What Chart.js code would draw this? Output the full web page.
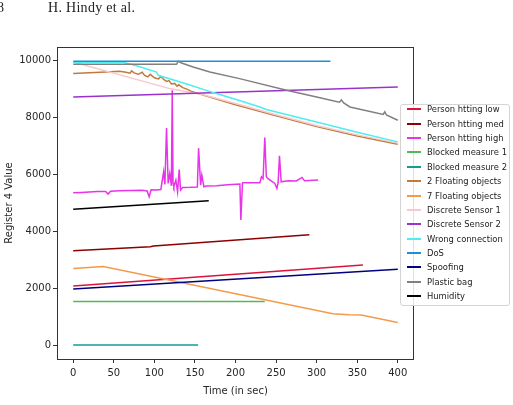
<!DOCTYPE html>
<html><head><meta charset="utf-8">
<script src="https://cdn.jsdelivr.net/npm/chart.js@4.4.0/dist/chart.umd.min.js"></script>
<style>
html,body{margin:0;padding:0;background:#fff;}
#wrap{position:relative;width:513px;height:405px;overflow:hidden;background:#fff;}
#c{position:absolute;left:0;top:0;}
.hdr{position:absolute;top:0;font-family:"Liberation Serif","DejaVu Serif",serif;font-size:14px;color:#222;line-height:16px;white-space:nowrap;}
#legend{position:absolute;left:400px;top:104px;width:108px;height:200px;border:1px solid #d4d4d4;border-radius:3px;background:rgba(255,255,255,0.85);}
.row{position:absolute;left:0;height:12px;width:108px;}
.sw{position:absolute;left:6px;top:5px;width:14px;height:2px;}
.lt{position:absolute;left:26px;top:0;font-family:"DejaVu Sans",sans-serif;font-size:8.4px;line-height:12px;color:#222;white-space:nowrap;}
</style></head>
<body>
<div id="wrap">
<canvas id="c" width="513" height="405"></canvas>
<div class="hdr" style="left:-3px">8</div>
<div class="hdr" style="left:48px;letter-spacing:0.3px">H. Hindy et al.</div>
<div id="legend"></div>
</div>
<script>
// ---- data (time in sec, register 4 value) ----
const seriesNames = ["Person htting low","Person htting med","Person htting high","Blocked measure 1","Blocked measure 2","2 Floating objects","7 Floating objects","Discrete Sensor 1","Discrete Sensor 2","Wrong connection","DoS","Spoofing","Plastic bag","Humidity"];
const seriesColors = ["#dc143c","#8b0000","#e834e8","#55b755","#159a9a","#c27a3c","#f59a4a","#f8c8cc","#9932cc","#4deeee","#1f8fd5","#000080","#808080","#000000"];

const lowT = [0, 357];
const lowV = [2081, 2817];
const medT = [0, 95, 99, 291];
const medV = [3319, 3455, 3480, 3881];
const highT = [0,10,20,30,40,43,46,57,70,85,91,93.6,96,102,108,111.4,113,115,117,119,121,122,123,124,126.5,128.6,130.6,132.3,135,145,153,154.5,157,158.5,161,164,177,190,205.4,206.6,208.6,220,230,232,234,236.1,238,240,248.5,251,252.5,254.2,256.3,265,275,282,285,290,301.8];
const highV = [5354,5365,5380,5395,5400,5310,5410,5430,5435,5440,5420,5214,5460,5449,5470,6091,5650,7635,5684,6035,5600,8958,5700,5565,5800,5390,6175,5449,5544,5550,5560,6923,5625,5975,5565,5590,5600,5640,5660,4396,5705,5705,5710,5916,5850,7298,5916,5850,5684,5509,5700,6653,5740,5775,5770,5895,5780,5790,5800];
const blk1T = [0, 236];
const blk1V = [1530, 1530];
const blk2T = [0, 154];
const blk2V = [0, 0];
const fl2T = [0,20,40,57,65,70,72,75,80,85,88,92,95,100,105,108,112,115,118,121,125,128,130,135,140,145,150,160,200,250,300,350,400];
const fl2V = [9544,9575,9600,9625,9590,9560,9640,9570,9520,9590,9480,9430,9520,9400,9360,9440,9330,9270,9300,9180,9200,9100,9150,9050,9000,8930,8880,8790,8450,8060,7680,7350,7063];
const fl7T = [0, 37, 320, 340, 355, 400];
const fl7V = [2688, 2758, 1098, 1065, 1053, 793];
const ds1T = [0, 119, 160, 200, 250, 300, 350, 400];
const ds1V = [9950, 9017, 8800, 8490, 8100, 7720, 7390, 7100];
const ds2T = [0, 400];
const ds2V = [8723, 9074];
const wrongT = [0,61.6,80,102.7,104.7,140,172.5,200,230,238,300,350,400];
const wrongV = [9945,9945,9800,9600,9484,9180,8877,8640,8372,8281,7840,7480,7144];
const dosT = [0, 317];
const dosV = [9975, 9975];
const spoofT = [0, 400];
const spoofV = [1975, 2667];
const bagT = [0,127.3,129.4,133.5,147.8,168.4,205,263,300,328,330.6,333,341,382,384,386,400];
const bagV = [9870,9870,9975,9916,9775,9600,9368,8958,8720,8540,8620,8520,8373,8110,8200,8090,7905];
const humT = [0, 167];
const humV = [4772, 5074];

const xTicks = [0,50,100,150,200,250,300,350,400];
const yTicks = [0,2000,4000,6000,8000,10000];

const seriesT = [lowT,medT,highT,blk1T,blk2T,fl2T,fl7T,ds1T,ds2T,wrongT,dosT,spoofT,bagT,humT];
const seriesV = [lowV,medV,highV,blk1V,blk2V,fl2V,fl7V,ds1V,ds2V,wrongV,dosV,spoofV,bagV,humV];

const N = seriesNames.length;
const datasets = seriesNames.map((name, i) => ({
  label: name,
  data: seriesT[i].map((t, k) => ({x: t, y: seriesV[i][k]})),
  borderColor: seriesColors[i],
  backgroundColor: seriesColors[i],
  borderWidth: 1.5,
  pointRadius: 0,
  tension: 0,
  fill: false,
  order: N - i
}));

const frame = {
  id: 'frame',
  afterDatasetsDraw(chart) {
    const a = chart.chartArea, ctx = chart.ctx;
    ctx.save();
    ctx.strokeStyle = '#333';
    ctx.lineWidth = 1;
    ctx.strokeRect(Math.round(a.left) + 0.5, Math.round(a.top) + 0.5, Math.round(a.right - a.left) - 1, Math.round(a.bottom - a.top));
    ctx.restore();
  }
};

const tickFont = {family: 'DejaVu Sans', size: 10};
new Chart(document.getElementById('c'), {
  type: 'line',
  data: {datasets},
  options: {
    responsive: false,
    animation: false,
    layout: {padding: {left: 0, top: 47, right: 99, bottom: 0}},
    plugins: {legend: {display: false}, tooltip: {enabled: false}},
    scales: {
      x: {
        type: 'linear', min: -20, max: 420,
        afterBuildTicks: s => { s.ticks = xTicks.map(v => ({value: v})); },
        afterFit: s => { s.height = 46; },
        ticks: {font: tickFont, color: '#262626', padding: 4, maxRotation: 0, autoSkip: false, callback: v => String(v)},
        grid: {drawOnChartArea: false, drawTicks: true, tickLength: 4, color: '#333', tickColor: '#333'},
        border: {display: false},
        title: {display: true, text: 'Time (in sec)', font: {family: 'DejaVu Sans', size: 10}, color: '#262626', padding: {top: 0, bottom: 8}}
      },
      y: {
        type: 'linear', min: -490, max: 10480,
        afterBuildTicks: s => { s.ticks = yTicks.map(v => ({value: v})); },
        afterFit: s => { s.width = 57; },
        ticks: {font: tickFont, color: '#262626', padding: 2, autoSkip: false, callback: v => String(v)},
        grid: {drawOnChartArea: false, drawTicks: true, tickLength: 4, color: '#333', tickColor: '#333'},
        border: {display: false},
        title: {display: true, text: 'Register 4 Value', font: {family: 'DejaVu Sans', size: 10}, color: '#262626', padding: {top: 3.5, bottom: 0}}
      }
    }
  },
  plugins: [frame]
});

// legend (HTML)
const lg = document.getElementById('legend');
seriesNames.forEach((name, i) => {
  const r = document.createElement('div');
  r.className = 'row';
  r.style.top = (109.3 - 104 - 1 - 6 + i * 14.38) + 'px';
  const sw = document.createElement('div');
  sw.className = 'sw';
  sw.style.background = seriesColors[i];
  const t = document.createElement('div');
  t.className = 'lt';
  t.textContent = name;
  r.appendChild(sw); r.appendChild(t);
  lg.appendChild(r);
});
</script>
</body></html>
